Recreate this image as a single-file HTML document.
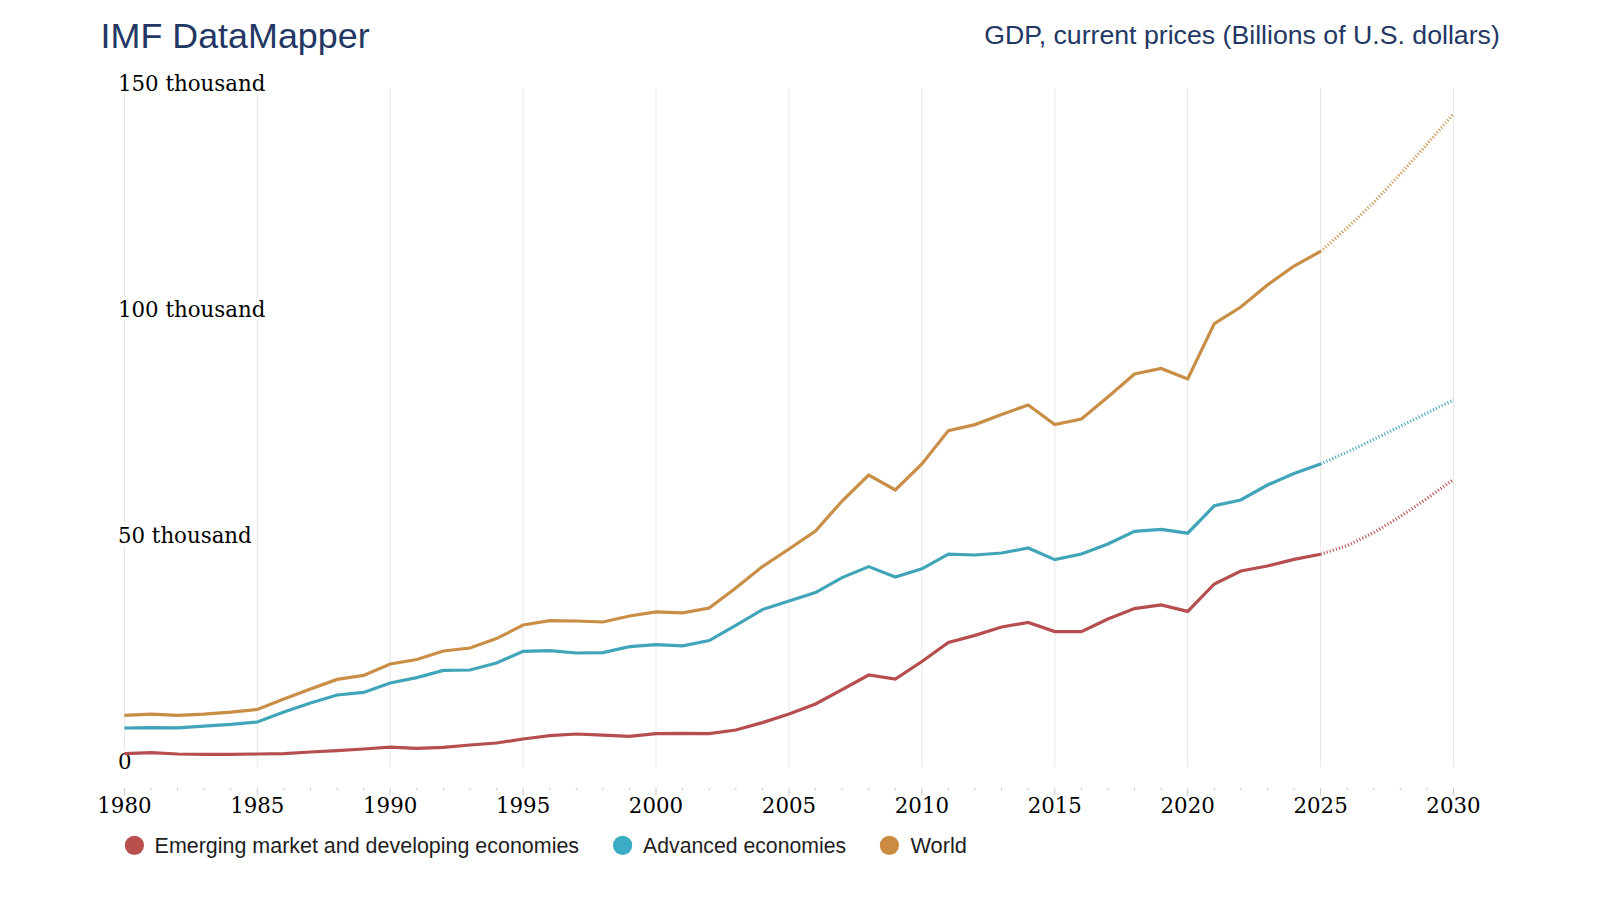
<!DOCTYPE html>
<html lang="en"><head><meta charset="utf-8"><title>IMF DataMapper</title>
<style>
html,body{margin:0;padding:0;background:#fff;}
body{width:1600px;height:900px;overflow:hidden;position:relative;font-family:"Liberation Sans","DejaVu Sans",sans-serif;}
svg{position:absolute;left:0;top:0;}
.t{font-family:"Liberation Sans","DejaVu Sans",sans-serif;fill:#233764;}
.ax text{font-family:"DejaVu Serif","Liberation Serif",serif;font-size:21.33px;fill:#000;}
.halo text{stroke:#fff;stroke-width:6px;stroke-linejoin:round;paint-order:stroke fill;}
.lg text{font-family:"Liberation Sans","DejaVu Sans",sans-serif;fill:#1e1e1e;}
.grid line{stroke:#e7e7e7;stroke-width:1;}
.tick line{stroke:#c8c8c8;stroke-width:1;}
.ser path{fill:none;stroke-width:3.2;stroke-linejoin:miter;}
</style></head><body>
<svg width="1600" height="900" viewBox="0 0 1600 900">
<rect width="1600" height="900" fill="#fff"/>
<text id="title" class="t" x="100.6" y="48" font-size="35.6" textLength="269" lengthAdjust="spacingAndGlyphs">IMF DataMapper</text>
<text id="sub" class="t" x="984.3" y="44.1" font-size="26.2" textLength="515.5" lengthAdjust="spacingAndGlyphs">GDP, current prices (Billions of U.S. dollars)</text>
<g class="grid"><line x1="124.4" x2="124.4" y1="88" y2="767.5"/><line x1="257.3" x2="257.3" y1="88" y2="767.5"/><line x1="390.2" x2="390.2" y1="88" y2="767.5"/><line x1="523.1" x2="523.1" y1="88" y2="767.5"/><line x1="656.0" x2="656.0" y1="88" y2="767.5"/><line x1="789.0" x2="789.0" y1="88" y2="767.5"/><line x1="921.9" x2="921.9" y1="88" y2="767.5"/><line x1="1054.8" x2="1054.8" y1="88" y2="767.5"/><line x1="1187.7" x2="1187.7" y1="88" y2="767.5"/><line x1="1320.6" x2="1320.6" y1="88" y2="767.5"/><line x1="1453.5" x2="1453.5" y1="88" y2="767.5"/></g>
<g class="tick"><line x1="124.4" x2="124.4" y1="788" y2="795.5"/><line x1="151.0" x2="151.0" y1="788" y2="790.2"/><line x1="177.6" x2="177.6" y1="788" y2="790.2"/><line x1="204.1" x2="204.1" y1="788" y2="790.2"/><line x1="230.7" x2="230.7" y1="788" y2="790.2"/><line x1="257.3" x2="257.3" y1="788" y2="795.5"/><line x1="283.9" x2="283.9" y1="788" y2="790.2"/><line x1="310.5" x2="310.5" y1="788" y2="790.2"/><line x1="337.1" x2="337.1" y1="788" y2="790.2"/><line x1="363.6" x2="363.6" y1="788" y2="790.2"/><line x1="390.2" x2="390.2" y1="788" y2="795.5"/><line x1="416.8" x2="416.8" y1="788" y2="790.2"/><line x1="443.4" x2="443.4" y1="788" y2="790.2"/><line x1="470.0" x2="470.0" y1="788" y2="790.2"/><line x1="496.5" x2="496.5" y1="788" y2="790.2"/><line x1="523.1" x2="523.1" y1="788" y2="795.5"/><line x1="549.7" x2="549.7" y1="788" y2="790.2"/><line x1="576.3" x2="576.3" y1="788" y2="790.2"/><line x1="602.9" x2="602.9" y1="788" y2="790.2"/><line x1="629.5" x2="629.5" y1="788" y2="790.2"/><line x1="656.0" x2="656.0" y1="788" y2="795.5"/><line x1="682.6" x2="682.6" y1="788" y2="790.2"/><line x1="709.2" x2="709.2" y1="788" y2="790.2"/><line x1="735.8" x2="735.8" y1="788" y2="790.2"/><line x1="762.4" x2="762.4" y1="788" y2="790.2"/><line x1="789.0" x2="789.0" y1="788" y2="795.5"/><line x1="815.5" x2="815.5" y1="788" y2="790.2"/><line x1="842.1" x2="842.1" y1="788" y2="790.2"/><line x1="868.7" x2="868.7" y1="788" y2="790.2"/><line x1="895.3" x2="895.3" y1="788" y2="790.2"/><line x1="921.9" x2="921.9" y1="788" y2="795.5"/><line x1="948.4" x2="948.4" y1="788" y2="790.2"/><line x1="975.0" x2="975.0" y1="788" y2="790.2"/><line x1="1001.6" x2="1001.6" y1="788" y2="790.2"/><line x1="1028.2" x2="1028.2" y1="788" y2="790.2"/><line x1="1054.8" x2="1054.8" y1="788" y2="795.5"/><line x1="1081.4" x2="1081.4" y1="788" y2="790.2"/><line x1="1107.9" x2="1107.9" y1="788" y2="790.2"/><line x1="1134.5" x2="1134.5" y1="788" y2="790.2"/><line x1="1161.1" x2="1161.1" y1="788" y2="790.2"/><line x1="1187.7" x2="1187.7" y1="788" y2="795.5"/><line x1="1214.3" x2="1214.3" y1="788" y2="790.2"/><line x1="1240.8" x2="1240.8" y1="788" y2="790.2"/><line x1="1267.4" x2="1267.4" y1="788" y2="790.2"/><line x1="1294.0" x2="1294.0" y1="788" y2="790.2"/><line x1="1320.6" x2="1320.6" y1="788" y2="795.5"/><line x1="1347.2" x2="1347.2" y1="788" y2="790.2"/><line x1="1373.8" x2="1373.8" y1="788" y2="790.2"/><line x1="1400.3" x2="1400.3" y1="788" y2="790.2"/><line x1="1426.9" x2="1426.9" y1="788" y2="790.2"/><line x1="1453.5" x2="1453.5" y1="788" y2="795.5"/></g>
<g class="ax halo"><text x="117.9" y="91.0">150 thousand</text><text x="117.9" y="317.0">100 thousand</text><text x="117.9" y="543.0">50 thousand</text><text x="117.9" y="769.0">0</text></g>
<g class="ser"><path d="M124.4,715.4 L151.0,714.2 L177.6,715.4 L204.1,714.2 L230.7,712.2 L257.3,709.4 L283.9,699.0 L310.5,689.0 L337.1,679.4 L363.6,675.4 L390.2,664.0 L416.8,659.5 L443.4,651.0 L470.0,648.0 L496.5,638.6 L523.1,625.0 L549.7,620.6 L576.3,621.0 L602.9,622.0 L629.5,616.0 L656.0,611.8 L682.6,612.8 L709.2,608.0 L735.8,588.0 L762.4,566.6 L789.0,549.0 L815.5,531.0 L842.1,501.0 L868.7,475.0 L895.3,490.0 L921.9,464.0 L948.4,430.6 L975.0,424.6 L1001.6,414.4 L1028.2,405.0 L1054.8,424.6 L1081.4,419.0 L1107.9,397.0 L1134.5,374.0 L1161.1,368.4 L1187.7,379.0 L1214.3,323.6 L1240.8,307.0 L1267.4,285.0 L1294.0,266.0 L1320.6,251.4" stroke="#c98e46"/><path d="M1320.6,251.4 L1347.2,228.0 L1373.8,202.4 L1400.3,174.0 L1426.9,144.4 L1453.5,113.7" stroke="#c98e46" stroke-dasharray="1.07 2.13"/><path d="M124.4,728.0 L151.0,727.6 L177.6,727.8 L204.1,726.2 L230.7,724.4 L257.3,722.0 L283.9,712.0 L310.5,703.0 L337.1,695.0 L363.6,692.4 L390.2,683.0 L416.8,677.6 L443.4,670.4 L470.0,670.0 L496.5,663.0 L523.1,651.4 L549.7,650.6 L576.3,653.0 L602.9,652.6 L629.5,646.6 L656.0,644.6 L682.6,645.8 L709.2,640.6 L735.8,625.3 L762.4,609.6 L789.0,601.0 L815.5,592.6 L842.1,577.6 L868.7,566.6 L895.3,577.0 L921.9,568.8 L948.4,554.2 L975.0,555.0 L1001.6,553.0 L1028.2,548.0 L1054.8,559.6 L1081.4,554.0 L1107.9,544.0 L1134.5,531.4 L1161.1,529.4 L1187.7,533.2 L1214.3,505.8 L1240.8,500.0 L1267.4,485.0 L1294.0,473.6 L1320.6,464.0" stroke="#40a5b9"/><path d="M1320.6,464.0 L1347.2,452.0 L1373.8,439.4 L1400.3,426.4 L1426.9,413.0 L1453.5,400.0" stroke="#40a5b9" stroke-dasharray="1.07 2.13"/><path d="M124.4,753.6 L151.0,752.6 L177.6,754.0 L204.1,754.4 L230.7,754.4 L257.3,754.0 L283.9,753.6 L310.5,752.0 L337.1,750.6 L363.6,749.0 L390.2,747.1 L416.8,748.3 L443.4,747.4 L470.0,745.0 L496.5,743.0 L523.1,739.0 L549.7,735.6 L576.3,734.0 L602.9,735.2 L629.5,736.4 L656.0,733.6 L682.6,733.3 L709.2,733.6 L735.8,730.0 L762.4,722.6 L789.0,714.0 L815.5,704.0 L842.1,689.6 L868.7,675.0 L895.3,679.0 L921.9,661.5 L948.4,642.5 L975.0,635.4 L1001.6,627.0 L1028.2,622.4 L1054.8,631.6 L1081.4,631.6 L1107.9,619.0 L1134.5,608.6 L1161.1,605.0 L1187.7,611.4 L1214.3,584.0 L1240.8,571.0 L1267.4,566.0 L1294.0,559.4 L1320.6,554.2" stroke="#b64d4f"/><path d="M1320.6,554.2 L1347.2,545.6 L1373.8,532.6 L1400.3,516.6 L1426.9,498.6 L1453.5,479.4" stroke="#b64d4f" stroke-dasharray="1.07 2.13"/></g>
<g class="ax"><text x="124.4" y="813.1" text-anchor="middle">1980</text><text x="257.3" y="813.1" text-anchor="middle">1985</text><text x="390.2" y="813.1" text-anchor="middle">1990</text><text x="523.1" y="813.1" text-anchor="middle">1995</text><text x="656.0" y="813.1" text-anchor="middle">2000</text><text x="789.0" y="813.1" text-anchor="middle">2005</text><text x="921.9" y="813.1" text-anchor="middle">2010</text><text x="1054.8" y="813.1" text-anchor="middle">2015</text><text x="1187.7" y="813.1" text-anchor="middle">2020</text><text x="1320.6" y="813.1" text-anchor="middle">2025</text><text x="1453.5" y="813.1" text-anchor="middle">2030</text></g>
<g class="lg">
<circle cx="134.4" cy="845.4" r="9.6" fill="#ba504d"/><text id="lg1" x="154.6" y="852.75" font-size="21.7" textLength="424.5" lengthAdjust="spacingAndGlyphs">Emerging market and developing economies</text>
<circle cx="622.6" cy="845.4" r="9.6" fill="#3cacc5"/><text id="lg2" x="643.1" y="852.75" font-size="21.7" textLength="203" lengthAdjust="spacingAndGlyphs">Advanced economies</text>
<circle cx="889.4" cy="845.4" r="9.6" fill="#cb8c41"/><text id="lg3" x="910.4" y="852.75" font-size="21.7" textLength="56.6" lengthAdjust="spacingAndGlyphs">World</text>
</g>
</svg>
</body></html>
